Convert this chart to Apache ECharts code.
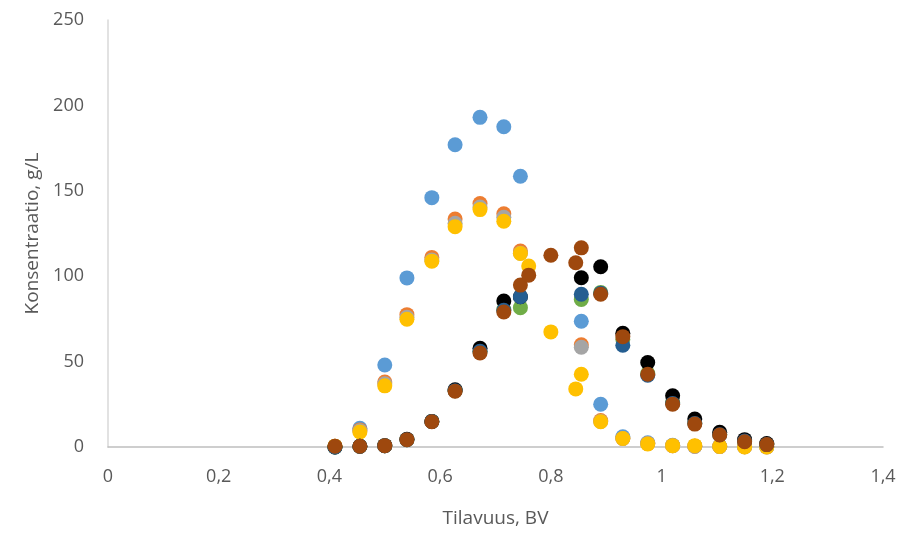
<!DOCTYPE html>
<html>
<head>
<meta charset="utf-8">
<script src="https://cdn.jsdelivr.net/npm/echarts@6/dist/echarts.min.js"></script>
<style>
  html, body { margin: 0; padding: 0; background: #fff; }
  #chart { width: 903px; height: 533px; }
</style>
</head>
<body>
<div id="chart"></div>
<script>
// yhteiset x-arvot (BV)
const xCommon = [0.41, 0.455, 0.5, 0.54, 0.585, 0.627, 0.672, 0.715, 0.745, 0.855, 0.89, 0.93, 0.975, 1.02, 1.06, 1.105, 1.15, 1.19];
// keltaisella ja ruskealla on pari lisäpistettä
const xExtra = [0.41, 0.455, 0.5, 0.54, 0.585, 0.627, 0.672, 0.715, 0.745, 0.76, 0.8, 0.845, 0.855, 0.89, 0.93, 0.975, 1.02, 1.06, 1.105, 1.15, 1.19];

const blueVals   = [0, 11, 48, 99, 146, 177, 193, 187.5, 158.5, 73.6, 25, 6, 2.5, 1, 0.5, 0.3, 0.2, 0.1];
const orangeVals = [0.5, 10, 38, 77.5, 111, 133.5, 142.5, 136.5, 114.7, 59.8, 15.5, 5, 2, 0.8, 0.5, 0.3, 0.2, 0.1];
const grayVals   = [0.5, 9.5, 37, 76, 109.5, 131, 140.5, 134.5, 113.5, 58.4, 15, 5, 2, 0.8, 0.5, 0.3, 0.2, 0.1];
const yellowVals = [0.5, 8.8, 35.8, 74.8, 108.8, 129, 139, 132.2, 113.3, 105.9, 67.4, 34, 42.6, 14.8, 5, 1.8, 0.8, 0.8, 0.3, 0, 0];
const greenVals  = [0, 0.4, 0.8, 4.3, 15, 33, 56, 80.5, 81.6, 86.4, 90.5, 63, 43, 26, 14, 7.5, 3.5, 1.5];
const blackVals  = [0, 0.4, 0.8, 4.5, 15, 33.5, 57.8, 85.5, 88, 99.1, 105.5, 66.6, 49.5, 30, 16.4, 8.6, 4.3, 2];
const navyVals   = [0, 0.4, 0.8, 4.3, 15, 33, 56, 80, 88, 89.4, 90, 59.6, 42, 25.5, 13.8, 7.2, 3.5, 1.5];
const brownVals  = [0.4, 0.4, 0.8, 4.3, 14.8, 32.7, 55, 79, 94.8, 100.6, 112.3, 107.9, 116.6, 89.4, 64.6, 42.6, 25.1, 13.4, 7, 3.1, 1.4];

const xTicks = { min: 0, max: 1.4, interval: 0.2 };
const yTicks = { min: 0, max: 250, interval: 50 };

function pts(xs, ys) {
  return ys.map((v, i) => [xs[i], v]);
}

function serie(name, color, data) {
  return {
    name: name,
    type: "scatter",
    symbolSize: 15,
    itemStyle: { color: color, opacity: 1 },
    data: data
  };
}

let chart = echarts.init(document.getElementById("chart"));
const labelFont = { color: "#595959", fontSize: 18, fontFamily: "Open Sans" };
const titleFont = { color: "#595959", fontSize: 19, fontFamily: "Open Sans" };

let option = {
  animation: false,
  grid: { left: 108, right: 20, top: 20, bottom: 85, containLabel: false },
  xAxis: {
    type: "value",
    min: xTicks.min, max: xTicks.max, interval: xTicks.interval,
    name: "Tilavuus, BV",
    nameLocation: "middle",
    nameGap: 62,
    nameTextStyle: titleFont,
    axisLine: { show: true, lineStyle: { color: "#BFBFBF", width: 1.5 } },
    axisTick: { show: false },
    splitLine: { show: false },
    axisLabel: Object.assign({
      margin: 21,
      formatter: v => String(Math.round(v * 10) / 10).replace(".", ",")
    }, labelFont)
  },
  yAxis: {
    type: "value",
    min: yTicks.min, max: yTicks.max, interval: yTicks.interval,
    name: "Konsentraatio, g/L",
    nameLocation: "middle",
    nameGap: 64,
    nameTextStyle: titleFont,
    axisLine: { show: true, lineStyle: { color: "#D9D9D9", width: 1.5 } },
    axisTick: { show: false },
    splitLine: { show: false },
    axisLabel: Object.assign({ margin: 24 }, labelFont)
  },
  series: [
    serie("s1", "#5B9BD5", pts(xCommon, blueVals)),
    serie("s2", "#ED7D31", pts(xCommon, orangeVals)),
    serie("s3", "#A5A5A5", pts(xCommon, grayVals)),
    serie("s4", "#FFC000", pts(xExtra, yellowVals)),
    serie("s5", "#70AD47", pts(xCommon, greenVals)),
    serie("s6", "#000000", pts(xCommon, blackVals)),
    serie("s7", "#255E91", pts(xCommon, navyVals)),
    serie("s8", "#9E480E", pts(xExtra, brownVals))
  ]
};

chart.setOption(option);
</script>
</body>
</html>
